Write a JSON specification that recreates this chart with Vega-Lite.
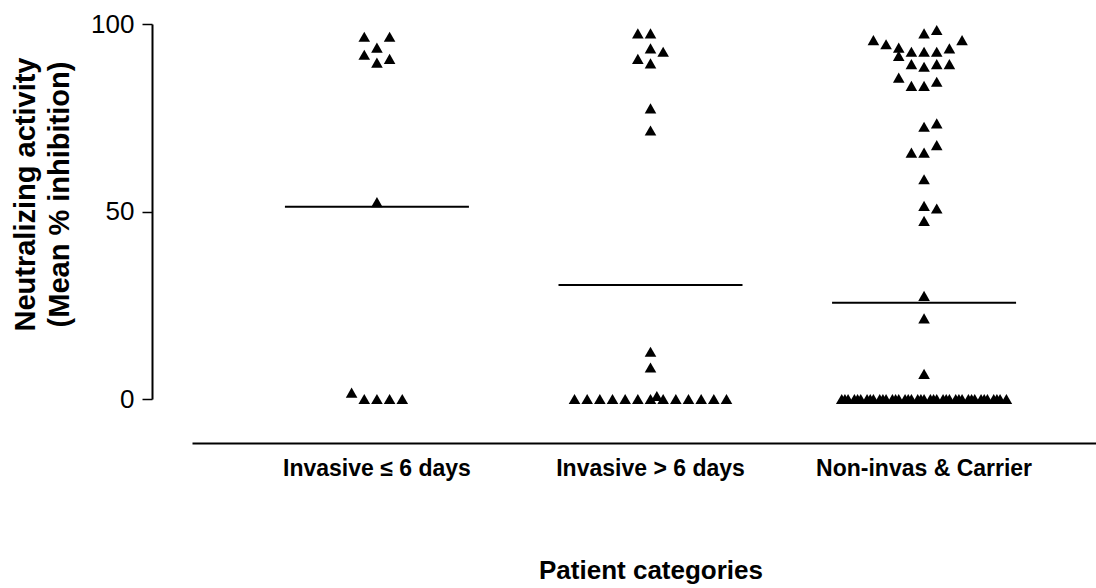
{
  "$schema": "https://vega.github.io/schema/vega-lite/v6.json",
  "width": 904,
  "height": 375,
  "autosize": {"type": "none"},
  "padding": {"left": 192, "top": 24, "right": 0, "bottom": 189},
  "background": "white",
  "config": {"view": {"stroke": null}, "font": "Liberation Sans"},
  "datasets": {
    "points": [
      {"category": "Invasive ≤ 6 days", "slot": -1, "value": 96.6},
      {"category": "Invasive ≤ 6 days", "slot": 1, "value": 96.6},
      {"category": "Invasive ≤ 6 days", "slot": 0, "value": 93.7},
      {"category": "Invasive ≤ 6 days", "slot": -1, "value": 91.8},
      {"category": "Invasive ≤ 6 days", "slot": 1, "value": 90.7},
      {"category": "Invasive ≤ 6 days", "slot": 0, "value": 89.7},
      {"category": "Invasive ≤ 6 days", "slot": 0, "value": 52.5},
      {"category": "Invasive ≤ 6 days", "slot": -2, "value": 1.7},
      {"category": "Invasive ≤ 6 days", "slot": -1, "value": 0},
      {"category": "Invasive ≤ 6 days", "slot": 0, "value": 0},
      {"category": "Invasive ≤ 6 days", "slot": 1, "value": 0},
      {"category": "Invasive ≤ 6 days", "slot": 2, "value": 0},

      {"category": "Invasive > 6 days", "slot": -1, "value": 97.5},
      {"category": "Invasive > 6 days", "slot": 0, "value": 97.5},
      {"category": "Invasive > 6 days", "slot": 0, "value": 93.5},
      {"category": "Invasive > 6 days", "slot": 1, "value": 92.6},
      {"category": "Invasive > 6 days", "slot": -1, "value": 90.7},
      {"category": "Invasive > 6 days", "slot": 0, "value": 89.5},
      {"category": "Invasive > 6 days", "slot": 0, "value": 77.5},
      {"category": "Invasive > 6 days", "slot": 0, "value": 71.6},
      {"category": "Invasive > 6 days", "slot": 0, "value": 12.6},
      {"category": "Invasive > 6 days", "slot": 0, "value": 8.4},
      {"category": "Invasive > 6 days", "slot": 0.5, "value": 0.8},
      {"category": "Invasive > 6 days", "slot": -6, "value": 0},
      {"category": "Invasive > 6 days", "slot": -5, "value": 0},
      {"category": "Invasive > 6 days", "slot": -4, "value": 0},
      {"category": "Invasive > 6 days", "slot": -3, "value": 0},
      {"category": "Invasive > 6 days", "slot": -2, "value": 0},
      {"category": "Invasive > 6 days", "slot": -1, "value": 0},
      {"category": "Invasive > 6 days", "slot": 0, "value": 0},
      {"category": "Invasive > 6 days", "slot": 1, "value": 0},
      {"category": "Invasive > 6 days", "slot": 2, "value": 0},
      {"category": "Invasive > 6 days", "slot": 3, "value": 0},
      {"category": "Invasive > 6 days", "slot": 4, "value": 0},
      {"category": "Invasive > 6 days", "slot": 5, "value": 0},
      {"category": "Invasive > 6 days", "slot": 6, "value": 0},

      {"category": "Non-invas & Carrier", "slot": 0, "value": 97.5},
      {"category": "Non-invas & Carrier", "slot": 1, "value": 98.4},
      {"category": "Non-invas & Carrier", "slot": -4, "value": 95.7},
      {"category": "Non-invas & Carrier", "slot": -3, "value": 94.6},
      {"category": "Non-invas & Carrier", "slot": 3, "value": 95.7},
      {"category": "Non-invas & Carrier", "slot": -2, "value": 93.7},
      {"category": "Non-invas & Carrier", "slot": -2, "value": 91.5},
      {"category": "Non-invas & Carrier", "slot": -1, "value": 92.6},
      {"category": "Non-invas & Carrier", "slot": 0, "value": 92.6},
      {"category": "Non-invas & Carrier", "slot": 1, "value": 92.6},
      {"category": "Non-invas & Carrier", "slot": 2, "value": 93.5},
      {"category": "Non-invas & Carrier", "slot": -1, "value": 89.3},
      {"category": "Non-invas & Carrier", "slot": 0, "value": 88.6},
      {"category": "Non-invas & Carrier", "slot": 1, "value": 89.3},
      {"category": "Non-invas & Carrier", "slot": 2, "value": 89.3},
      {"category": "Non-invas & Carrier", "slot": -2, "value": 85.7},
      {"category": "Non-invas & Carrier", "slot": -1, "value": 83.5},
      {"category": "Non-invas & Carrier", "slot": 0, "value": 83.5},
      {"category": "Non-invas & Carrier", "slot": 1, "value": 84.6},
      {"category": "Non-invas & Carrier", "slot": 0, "value": 72.6},
      {"category": "Non-invas & Carrier", "slot": 1, "value": 73.5},
      {"category": "Non-invas & Carrier", "slot": -1, "value": 65.7},
      {"category": "Non-invas & Carrier", "slot": 0, "value": 65.7},
      {"category": "Non-invas & Carrier", "slot": 1, "value": 67.7},
      {"category": "Non-invas & Carrier", "slot": 0, "value": 58.6},
      {"category": "Non-invas & Carrier", "slot": 0, "value": 51.5},
      {"category": "Non-invas & Carrier", "slot": 1, "value": 50.8},
      {"category": "Non-invas & Carrier", "slot": 0, "value": 47.5},
      {"category": "Non-invas & Carrier", "slot": 0, "value": 27.5},
      {"category": "Non-invas & Carrier", "slot": 0, "value": 21.5},
      {"category": "Non-invas & Carrier", "slot": 0, "value": 6.7},
      {"category": "Non-invas & Carrier", "slot": -6.5, "value": 0},
      {"category": "Non-invas & Carrier", "slot": -6, "value": 0},
      {"category": "Non-invas & Carrier", "slot": -5.5, "value": 0},
      {"category": "Non-invas & Carrier", "slot": -5, "value": 0},
      {"category": "Non-invas & Carrier", "slot": -4.5, "value": 0},
      {"category": "Non-invas & Carrier", "slot": -4, "value": 0},
      {"category": "Non-invas & Carrier", "slot": -3.5, "value": 0},
      {"category": "Non-invas & Carrier", "slot": -3, "value": 0},
      {"category": "Non-invas & Carrier", "slot": -2.5, "value": 0},
      {"category": "Non-invas & Carrier", "slot": -2, "value": 0},
      {"category": "Non-invas & Carrier", "slot": -1.5, "value": 0},
      {"category": "Non-invas & Carrier", "slot": -1, "value": 0},
      {"category": "Non-invas & Carrier", "slot": -0.5, "value": 0},
      {"category": "Non-invas & Carrier", "slot": 0, "value": 0},
      {"category": "Non-invas & Carrier", "slot": 0.5, "value": 0},
      {"category": "Non-invas & Carrier", "slot": 1, "value": 0},
      {"category": "Non-invas & Carrier", "slot": 1.5, "value": 0},
      {"category": "Non-invas & Carrier", "slot": 2, "value": 0},
      {"category": "Non-invas & Carrier", "slot": 2.5, "value": 0},
      {"category": "Non-invas & Carrier", "slot": 3, "value": 0},
      {"category": "Non-invas & Carrier", "slot": 3.5, "value": 0},
      {"category": "Non-invas & Carrier", "slot": 4, "value": 0},
      {"category": "Non-invas & Carrier", "slot": 4.5, "value": 0},
      {"category": "Non-invas & Carrier", "slot": 5, "value": 0},
      {"category": "Non-invas & Carrier", "slot": 5.5, "value": 0},
      {"category": "Non-invas & Carrier", "slot": 6, "value": 0},
      {"category": "Non-invas & Carrier", "slot": 6.5, "value": 0},
      {"category": "Non-invas & Carrier", "slot": -6.25, "value": 0},
      {"category": "Non-invas & Carrier", "slot": -5.25, "value": 0},
      {"category": "Non-invas & Carrier", "slot": -4.25, "value": 0},
      {"category": "Non-invas & Carrier", "slot": -3.25, "value": 0},
      {"category": "Non-invas & Carrier", "slot": -2.25, "value": 0},
      {"category": "Non-invas & Carrier", "slot": -1.25, "value": 0},
      {"category": "Non-invas & Carrier", "slot": -0.25, "value": 0},
      {"category": "Non-invas & Carrier", "slot": 0.75, "value": 0},
      {"category": "Non-invas & Carrier", "slot": 1.75, "value": 0},
      {"category": "Non-invas & Carrier", "slot": 2.75, "value": 0},
      {"category": "Non-invas & Carrier", "slot": 3.75, "value": 0},
      {"category": "Non-invas & Carrier", "slot": 4.75, "value": 0},
      {"category": "Non-invas & Carrier", "slot": 5.75, "value": 0}
    ],
    "means": [
      {"category": "Invasive ≤ 6 days", "mean": 51.3},
      {"category": "Invasive > 6 days", "mean": 30.4},
      {"category": "Non-invas & Carrier", "mean": 25.7}
    ]
  },
  "layer": [
    {
      "data": {"name": "points"},
      "mark": {"type": "point", "shape": "triangle-up", "filled": true, "color": "black", "opacity": 1, "size": 135},
      "encoding": {
        "x": {
          "field": "category",
          "type": "nominal",
          "sort": ["Invasive ≤ 6 days", "Invasive > 6 days", "Non-invas & Carrier"],
          "scale": {"range": [0, 917], "paddingInner": 0, "paddingOuter": 0.176},
          "axis": {
            "title": "Patient categories",
            "titleFontSize": 26,
            "titleFontWeight": "bold",
            "titleColor": "black",
            "titlePadding": 77,
            "labelAngle": 0,
            "labelFontSize": 23,
            "labelFontWeight": "bold",
            "labelColor": "black",
            "labelPadding": 14,
            "labelLimit": 0,
            "ticks": false,
            "domainColor": "black",
            "domainWidth": 2,
            "offset": 44
          }
        },
        "xOffset": {"field": "slot", "type": "quantitative", "scale": {"domain": [-10.8, 10.8]}},
        "y": {
          "field": "value",
          "type": "quantitative",
          "scale": {"domain": [0, 100]},
          "axis": {
            "title": ["Neutralizing activity", "(Mean % inhibition)"],
            "titleFontSize": 29,
            "titleFontWeight": "bold",
            "titleColor": "black",
            "titleLineHeight": 34,
            "titlePadding": 16,
            "titleY": 170,
            "values": [0, 50, 100],
            "grid": false,
            "labelFontSize": 26,
            "labelColor": "black",
            "labelPadding": 8,
            "tickSize": 10,
            "tickColor": "black",
            "tickWidth": 1.5,
            "domainColor": "black",
            "domainWidth": 2,
            "offset": 40
          }
        }
      }
    },
    {
      "data": {"name": "means"},
      "mark": {"type": "tick", "color": "black", "thickness": 2, "size": 184, "opacity": 1},
      "encoding": {
        "x": {"field": "category", "type": "nominal", "sort": ["Invasive ≤ 6 days", "Invasive > 6 days", "Non-invas & Carrier"]},
        "y": {"field": "mean", "type": "quantitative"}
      }
    }
  ]
}
